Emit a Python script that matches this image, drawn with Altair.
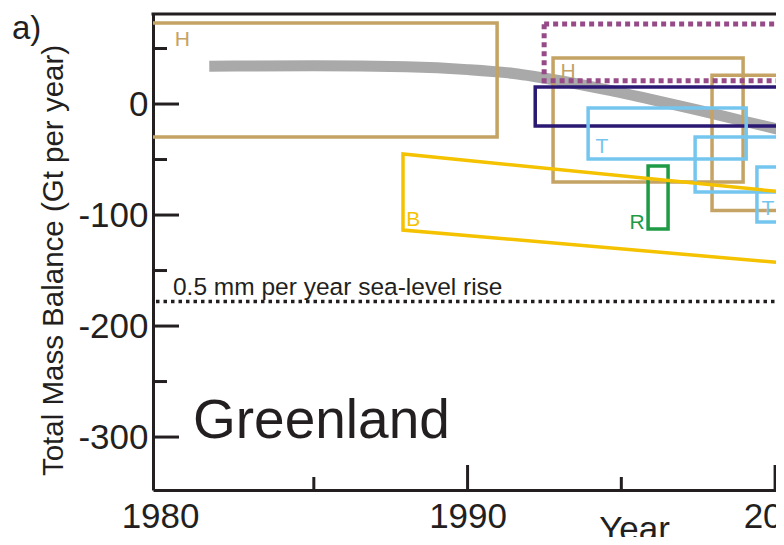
import altair as alt
import pandas as pd

FONT = "Liberation Sans"
INK = "#231f20"
W, H = 623, 476

# ---- scales (data space) ----
x_domain = [1979.77, 2000.03]
y_domain = [-347.7, 81.1]

# ---- gray smoothed curve ----
curve_year = [1981.6, 1985.0, 1988.0, 1990.0, 1991.5, 1993.0, 1994.5, 1996.0, 1997.5, 1999.0, 2000.6]
curve_val = [34.0, 34.5, 33.5, 31.0, 27.5, 21.0, 13.0, 4.0, -5.5, -15.5, -26.0]

# ---- estimate boxes: start year, end year, upper, lower ----
box_name = ["H1", "H2", "H3", "N", "T1", "T2", "T3", "R"]
box_start = [1979.0, 1992.78, 1997.95, 1992.2, 1993.92, 1997.4, 1999.41, 1995.87]
box_end = [1990.96, 1998.96, 2002.0, 2002.0, 1999.06, 2002.0, 2002.0, 1996.52]
box_top = [73.0, 41.4, 26.0, 15.3, -3.6, -29.7, -56.8, -55.9]
box_bot = [-29.7, -70.3, -96.0, -19.8, -49.5, -79.3, -106.3, -112.6]
box_color = ["#c4a364", "#c4a364", "#c4a364", "#2b1873", "#75c6ef", "#75c6ef", "#75c6ef", "#1f9a45"]

# dotted purple box
dot_start = [1992.49]
dot_end = [2002.0]
dot_top = [72.0]
dot_bot = [21.0]

# yellow B trapezoid outline (path order)
b_year = [2000.6, 1987.9, 1987.9, 2000.6]
b_val = [-80.2, -45.0, -113.5, -143.9]

# labels on boxes
lab_text = ["H", "H", "T", "T", "R", "B"]
lab_year = [1980.72, 1993.27, 1994.37, 1999.77, 1995.51, 1988.23]
lab_val = [52.3, 23.4, -44.1, -100.0, -112.6, -110.0]
lab_color = ["#c4a364", "#c4a364", "#75c6ef", "#75c6ef", "#1f9a45", "#f5c200"]

# sea-level reference
slr_val = [-178.0]

# ticks
y_major = [0, -100, -200, -300]
y_minor = [50, -50, -150, -250]
x_major = [1990, 2000]
x_minor = [1985, 1995]
x_labels = [1980, 1990, 2000]

xs = alt.Scale(domain=x_domain, nice=False, zero=False)
ys = alt.Scale(domain=y_domain, nice=False, zero=False)

x_axis = alt.Axis(
    values=x_labels, labelExpr="'' + datum.value", ticks=False, tickSize=0,
    domain=True, domainWidth=3, domainColor=INK, grid=False,
    labelFont=FONT, labelFontSize=35, labelColor=INK, labelPadding=9,
    labelFlush=False, labelOverlap=False, labelBound=False,
    labelOffset={"condition": {"test": "datum.value == 2000", "value": 7}, "value": 0},
    title="Year", titleFont=FONT, titleFontSize=35, titleFontWeight="normal", titleColor=INK,
    titleX=481, titleY=50, titleAlign="center", titleBaseline="alphabetic",
)
y_axis = alt.Axis(
    values=y_major, labelExpr="'' + datum.value", ticks=False, tickSize=0,
    domain=True, domainWidth=3, domainColor=INK, grid=False,
    labelFont=FONT, labelFontSize=35, labelColor=INK, labelPadding=5,
    labelFlush=False, labelOverlap=False,
    title="Total Mass Balance (Gt per year)", titleFont=FONT, titleFontSize=29.5,
    titleFontWeight="normal", titleColor=INK, titleX=-91, titleY=246, titleAngle=270,
    titleAlign="center", titleBaseline="alphabetic",
)


def X(f):
    return alt.X(f, scale=xs, axis=x_axis)


def Y(f):
    return alt.Y(f, scale=ys, axis=y_axis)


curve_df = pd.DataFrame({"year": curve_year, "val": curve_val})
gray = alt.Chart(curve_df).mark_line(color="#a9a9a9", strokeWidth=11, strokeCap="butt", clip=True, interpolate="monotone").encode(
    x=X("year:Q"), y=Y("val:Q"),
)

box_df = pd.DataFrame({"name": box_name, "x1": box_start, "x2": box_end, "top": box_top, "bot": box_bot, "c": box_color})
boxes = alt.Chart(box_df).mark_rect(filled=False, strokeWidth=3.5, clip=True).encode(
    x=X("x1:Q"), x2="x2:Q", y=Y("top:Q"), y2="bot:Q",
    color=alt.Color("c:N", scale=None),
)

dot_df = pd.DataFrame({"x1": dot_start, "x2": dot_end, "top": dot_top, "bot": dot_bot})
dotted = alt.Chart(dot_df).mark_rect(filled=False, stroke="#964a87", strokeWidth=5, strokeDash=[5, 4], clip=True).encode(
    x=X("x1:Q"), x2="x2:Q", y=Y("top:Q"), y2="bot:Q",
)

b_df = pd.DataFrame({"year": b_year, "val": b_val, "o": list(range(len(b_year)))})
bshape = alt.Chart(b_df).mark_line(color="#f5c200", strokeWidth=3.5, strokeJoin="miter", clip=True).encode(
    x=X("year:Q"), y=Y("val:Q"), order="o:Q",
)

lab_df = pd.DataFrame({"t": lab_text, "year": lab_year, "val": lab_val, "c": lab_color})
labels = alt.Chart(lab_df).mark_text(font=FONT, fontSize=21, align="center", baseline="alphabetic").encode(
    x=X("year:Q"), y=Y("val:Q"), text="t:N",
    color=alt.Color("c:N", scale=None),
)

slr_df = pd.DataFrame({"val": slr_val})
slr = alt.Chart(slr_df).mark_rule(color=INK, strokeWidth=3.5, strokeDash=[3.5, 4]).encode(
    y=Y("val:Q"), x=alt.value(3), x2=alt.value(W),
)

ann_text = ["0.5 mm per year sea-level rise", "Greenland"]
ann_year = [1980.42, 1981.07]
ann_val = [-172.0, -301.0]
ann_df = pd.DataFrame({"t": ann_text, "year": ann_year, "val": ann_val})
ann_small = alt.Chart(ann_df.iloc[[0]]).mark_text(font=FONT, fontSize=24.5, align="left", baseline="alphabetic", color=INK).encode(
    x=X("year:Q"), y=Y("val:Q"), text="t:N")
ann_big = alt.Chart(ann_df.iloc[[1]]).mark_text(font=FONT, fontSize=55, align="left", baseline="alphabetic", color=INK).encode(
    x=X("year:Q"), y=Y("val:Q"), text="t:N")

ymaj = alt.Chart(pd.DataFrame({"v": y_major})).mark_rule(color=INK, strokeWidth=3).encode(
    y=Y("v:Q"), x=alt.value(0), x2=alt.value(26))
ymin = alt.Chart(pd.DataFrame({"v": y_minor})).mark_rule(color=INK, strokeWidth=3).encode(
    y=Y("v:Q"), x=alt.value(0), x2=alt.value(14))
xmaj = alt.Chart(pd.DataFrame({"v": x_major})).mark_rule(color=INK, strokeWidth=3).encode(
    x=X("v:Q"), y=alt.value(H), y2=alt.value(H - 25))
xmin = alt.Chart(pd.DataFrame({"v": x_minor})).mark_rule(color=INK, strokeWidth=3).encode(
    x=X("v:Q"), y=alt.value(H), y2=alt.value(H - 13))

frame_top = alt.Chart(pd.DataFrame({"k": [0]})).mark_rule(color=INK, strokeWidth=3).encode(
    x=alt.value(-1.5), x2=alt.value(W), y=alt.value(0))

panel = alt.Chart(pd.DataFrame({"t": ["a)"]})).mark_text(font=FONT, fontSize=33, align="left", baseline="alphabetic", color=INK).encode(
    x=alt.value(-141), y=alt.value(25), text="t:N")

chart = alt.layer(
    gray, boxes, dotted, bshape, labels, slr, ann_small, ann_big,
    ymaj, ymin, xmaj, xmin, frame_top, panel,
).properties(
    width=W, height=H, autosize="none",
    padding={"left": 145, "top": 6, "right": 0, "bottom": 47},
    background="white",
).configure_view(stroke=None)

chart.save("out.html", embed_options={"renderer": "svg", "actions": False})
